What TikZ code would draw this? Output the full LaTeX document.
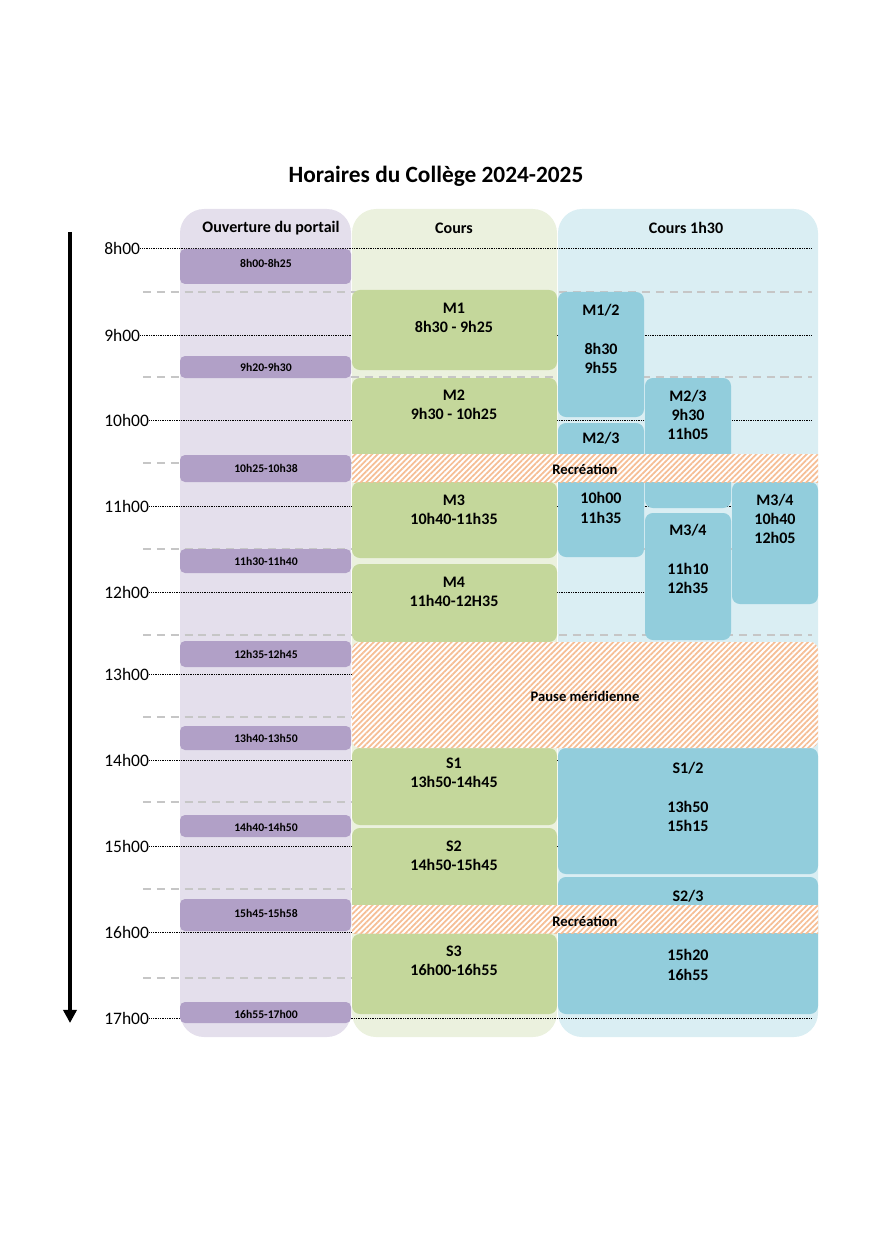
\documentclass[tikz,border=0pt]{standalone}
\usepackage{fontspec}
\setmainfont{Carlito}
\usepackage{tikz}
\usetikzlibrary{arrows.meta,patterns.meta}
\usepackage{xcolor}
\definecolor{portefond}{HTML}{E4DFEC}
\definecolor{porte}{HTML}{B1A0C7}
\definecolor{coursfond}{HTML}{EBF1DE}
\definecolor{cours}{HTML}{C4D79B}
\definecolor{longfond}{HTML}{DAEEF3}
\definecolor{long}{HTML}{92CDDC}
\definecolor{hachure}{HTML}{F6BE95}

\begin{document}
\begin{tikzpicture}[%
    x=0.0241cm,
    y=-0.0241cm,
    colonne/.style={rounded corners=5.8mm},
    creneau/.style={rounded corners=1.9mm},
    ouvert/.style={fill=porte, rounded corners=1.2mm},
    pause/.style={%
      preaction={fill=white},
      pattern={Lines[angle=45,distance=2.7pt,line width=1.2pt]},
      pattern color=hachure
    },
    heure/.style={anchor=west, inner sep=0pt, font=\fontsize{12}{14}\selectfont},
    entete/.style={font=\bfseries\fontsize{11}{13}\selectfont},
    titre/.style={font=\bfseries\fontsize{16}{19}\selectfont},
    seance/.style={align=center, inner sep=0pt, font=\bfseries\fontsize{11}{13.2}\selectfont},
    petit/.style={inner sep=0pt, font=\bfseries\fontsize{8}{9}\selectfont},
    repere/.style={dash pattern=on 0.5pt off 0.7pt, line width=0.6pt},
    demi/.style={gray!45, dash pattern=on 5.5pt off 4pt, line width=0.8pt}
  ]
  \useasboundingbox (0,0) rectangle (872,1233);

  % colonnes
  \fill[portefond, colonne] (180,209) rectangle (351,1037);
  \fill[coursfond, colonne] (352,209) rectangle (557,1037);
  \fill[longfond, colonne] (558,209) rectangle (818,1037);

  \node[titre] (titre) at (436,176) {Horaires du Collège 2024-2025};
  \node[entete] (col1) at (271,228) {Ouverture du portail};
  \node[entete] (col2) at (454,228) {Cours};
  \node[entete] (col3) at (686,228) {Cours 1h30};

  % demi-heures
  \foreach \y in {292,377,463,549,635,717,802,889,978}
    \draw[demi] (143,\y) -- (812,\y);

  % heures
  \foreach \y/\h in {248/8,335/9,420/10,506/11,592/12,674/13,760/14,846/15,932/16,1018/17} {
    \node[heure] (h\h) at (104,\y) {\h h00};
    \draw[repere] (h\h.east) -- (812,\y);
  }

  % axe du temps
  \coordinate (debut) at (70,232);
  \coordinate (fin) at (70,1023);
  \draw[line width=2.8pt, -{Triangle[length=9pt,width=9pt]}] (debut) -- (fin);

  % ouverture du portail
  \fill[ouvert] (180,249) rectangle (351,284);
  \fill[ouvert] (180,356) rectangle (351,378);
  \fill[ouvert] (180,455) rectangle (351,482);
  \fill[ouvert] (180,549) rectangle (351,573);
  \fill[ouvert] (180,641) rectangle (351,667);
  \fill[ouvert] (180,726) rectangle (351,750);
  \fill[ouvert] (180,815) rectangle (351,837);
  \fill[ouvert] (180,899) rectangle (351,931);
  \fill[ouvert] (180,1002) rectangle (351,1023);
  \node[petit] (p1) at (266,263) {8h00-8h25};
  \node[petit] (p2) at (266,367) {9h20-9h30};
  \node[petit] (p3) at (266,468) {10h25-10h38};
  \node[petit] (p4) at (266,561) {11h30-11h40};
  \node[petit] (p5) at (266,654) {12h35-12h45};
  \node[petit] (p6) at (266,738) {13h40-13h50};
  \node[petit] (p7) at (266,827) {14h40-14h50};
  \node[petit] (p8) at (266,913) {15h45-15h58};
  \node[petit] (p9) at (266,1014) {16h55-17h00};

  % cours
  \fill[cours, creneau] (352,290) rectangle (557,370);
  \fill[cours, creneau] (352,378) rectangle (557,460);
  \fill[cours, creneau] (352,482) rectangle (557,558);
  \fill[cours, creneau] (352,564) rectangle (557,642);
  \fill[cours, creneau] (352,748) rectangle (557,825);
  \fill[cours, creneau] (352,828) rectangle (557,912);
  \fill[cours, creneau] (352,934) rectangle (557,1014);
  \node[seance] (m1) at (454,318) {M1\\8h30 - 9h25};
  \node[seance] (m2) at (454,405) {M2\\9h30 - 10h25};
  \node[seance] (m3) at (454,510) {M3\\10h40-11h35};
  \node[seance] (m4) at (454,592) {M4\\11h40-12H35};
  \node[seance] (s1) at (454,773) {S1\\13h50-14h45};
  \node[seance] (s2) at (454,856) {S2\\14h50-15h45};
  \node[seance] (s3) at (454,961) {S3\\16h00-16h55};

  % cours 1h30
  \fill[long, creneau] (558,292) rectangle (644,417);
  \fill[long, creneau] (558,423) rectangle (644,557);
  \fill[long, creneau] (645,378) rectangle (731,508);
  \fill[long, creneau] (645,513) rectangle (731,640);
  \fill[long, creneau] (732,482) rectangle (818,604);
  \fill[long, creneau] (558,748) rectangle (818,874);
  \fill[long, creneau] (558,877) rectangle (818,1014);
  \node[seance] (m12) at (601,339) {M1/2\\ \\8h30\\9h55};
  \node[seance] (m23a) at (601,438) {M2/3};
  \node[seance] (m23b) at (601,508) {10h00\\11h35};
  \node[seance] (m23c) at (688,415) {M2/3\\9h30\\11h05};
  \node[seance] (m34a) at (688,559) {M3/4\\ \\11h10\\12h35};
  \node[seance] (m34b) at (775,519) {M3/4\\10h40\\12h05};
  \node[seance] (s12) at (688,797) {S1/2\\ \\13h50\\15h15};
  \node[seance] (s23a) at (688,896) {S2/3};
  \node[seance] (s23b) at (688,965) {15h20\\16h55};

  % pauses
  \path[pause] (352,454) rectangle (818,482);
  \path[pause, creneau] (352,642) rectangle (818,748);
  \path[pause] (352,905) rectangle (818,933);
  \node[entete, font=\bfseries\fontsize{10}{12}\selectfont] (recre1) at (585,469) {Recréation};
  \node[entete, font=\bfseries\fontsize{10}{12}\selectfont] (midi) at (585,696) {Pause méridienne};
  \node[entete, font=\bfseries\fontsize{10}{12}\selectfont] (recre2) at (585,921) {Recréation};
\end{tikzpicture}
\end{document}
